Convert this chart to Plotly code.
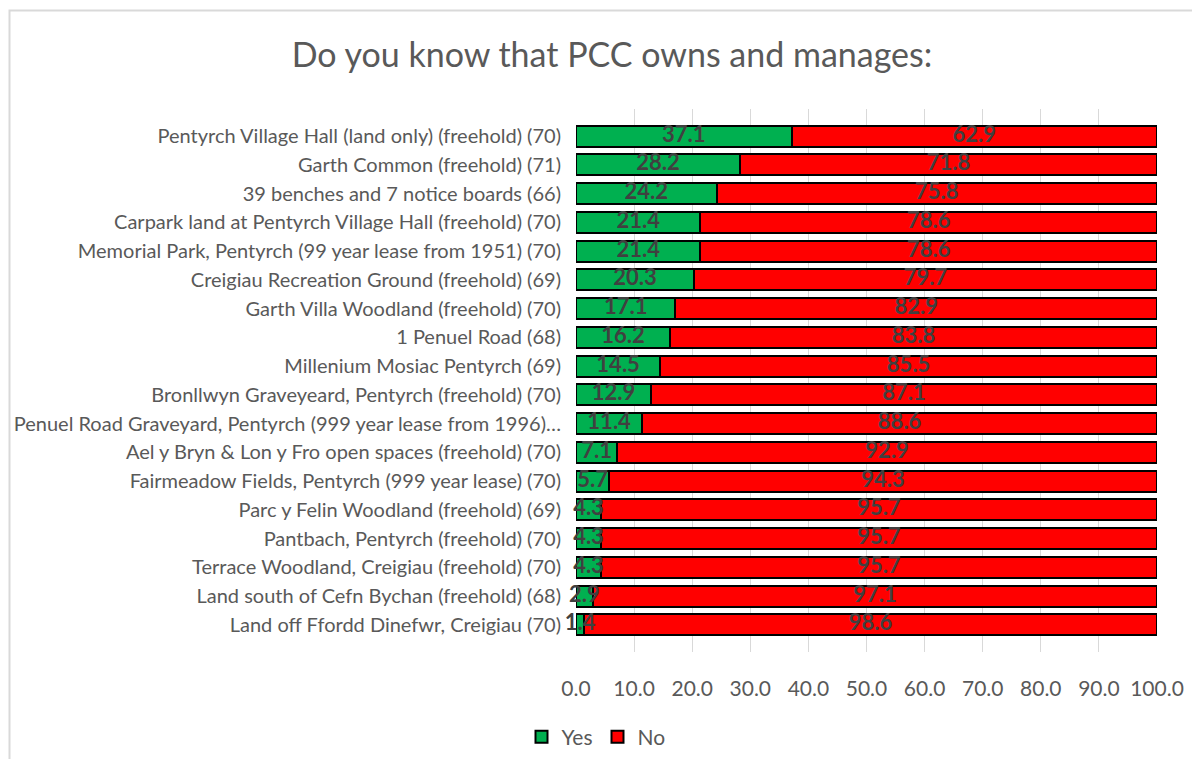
import plotly.graph_objects as go

categories = [
    "Pentyrch Village Hall (land only) (freehold) (70)",
    "Garth Common (freehold) (71)",
    "39 benches and 7 notice boards (66)",
    "Carpark land at Pentyrch Village Hall (freehold) (70)",
    "Memorial Park, Pentyrch (99 year lease from 1951) (70)",
    "Creigiau Recreation Ground (freehold) (69)",
    "Garth Villa Woodland (freehold) (70)",
    "1 Penuel Road (68)",
    "Millenium Mosiac Pentyrch (69)",
    "Bronllwyn Graveyeard, Pentyrch (freehold) (70)",
    "Penuel Road Graveyard, Pentyrch (999 year lease from 1996)…",
    "Ael y Bryn & Lon y Fro open spaces (freehold) (70)",
    "Fairmeadow Fields, Pentyrch (999 year lease) (70)",
    "Parc y Felin Woodland (freehold) (69)",
    "Pantbach, Pentyrch (freehold) (70)",
    "Terrace Woodland, Creigiau (freehold) (70)",
    "Land south of Cefn Bychan (freehold) (68)",
    "Land off Ffordd Dinefwr, Creigiau (70)",
]
yes_vals = [37.1, 28.2, 24.2, 21.4, 21.4, 20.3, 17.1, 16.2, 14.5, 12.9, 11.4, 7.1, 5.7, 4.3, 4.3, 4.3, 2.9, 1.4]
no_vals = [62.9, 71.8, 75.8, 78.6, 78.6, 79.7, 82.9, 83.8, 85.5, 87.1, 88.6, 92.9, 94.3, 95.7, 95.7, 95.7, 97.1, 98.6]
tick_vals = [0, 10, 20, 30, 40, 50, 60, 70, 80, 90, 100]
tick_text = ["0.0", "10.0", "20.0", "30.0", "40.0", "50.0", "60.0", "70.0", "80.0", "90.0", "100.0"]

FONT = "Lato"
W, H = 1184, 751
ML, MR, MT, MB = 568, 35, 101, 107

fig = go.Figure()
fig.add_trace(go.Bar(
    y=categories, x=yes_vals, orientation="h", name="Yes",
    marker=dict(color="#00B050", line=dict(color="#000000", width=2)),
))
fig.add_trace(go.Bar(
    y=categories, x=no_vals, orientation="h", name="No",
    marker=dict(color="#FF0000", line=dict(color="#000000", width=2)),
))
label_font = dict(family=FONT, size=22, color="#404040", weight="bold")
fig.add_trace(go.Scatter(
    y=categories, x=[v / 2 for v in yes_vals], mode="text", cliponaxis=False,
    text=[f"{v:.1f}" for v in yes_vals], showlegend=False, hoverinfo="skip",
    textfont=label_font,
))
fig.add_trace(go.Scatter(
    y=categories, x=[y + n / 2 for y, n in zip(yes_vals, no_vals)], mode="text",
    cliponaxis=False,
    text=[f"{v:.1f}" for v in no_vals], showlegend=False, hoverinfo="skip",
    textfont=label_font,
))

pw = W - ML - MR
ph = H - MT - MB
fig.add_shape(
    type="rect", xref="paper", yref="paper",
    x0=(1.5 - ML) / pw, x1=(W + 20 - ML) / pw,
    y0=(H - MB - (H + 20)) / ph, y1=(H - MB - 2.5) / ph,
    line=dict(color="#D9D9D9", width=2), fillcolor="rgba(0,0,0,0)", layer="below",
)

fig.update_layout(
    width=W, height=H,
    barmode="stack", bargap=0.27,
    margin=dict(l=ML, r=MR, t=MT, b=MB, autoexpand=False),
    paper_bgcolor="white", plot_bgcolor="white",
    font=dict(family=FONT, color="#595959"),
    title=dict(text="Do you know that PCC owns and manages:", x=604 / W, xanchor="center",
               y=1 - 47 / H, yanchor="middle",
               font=dict(family=FONT, size=34, color="#595959")),
    xaxis=dict(range=[0, 100], tickvals=tick_vals, ticktext=tick_text, automargin=False,
               showgrid=True, gridcolor="#D9D9D9", gridwidth=1, zeroline=False,
               showline=False, ticks="", tickfont=dict(family=FONT, size=21, color="#595959"),
               side="bottom", ticklabelstandoff=22),
    yaxis=dict(autorange="reversed", showgrid=False, ticks="", showline=False, automargin=False,
               tickfont=dict(family=FONT, size=20, color="#595959"), ticklabelstandoff=14),
    legend=dict(orientation="h", x=(588 - ML) / pw, xanchor="center",
                y=(H - MB - 729) / ph, yanchor="middle", traceorder="normal",
                font=dict(family=FONT, size=21, color="#595959"),
                itemwidth=30, tracegroupgap=0),
)

fig.write_html("out.html")
